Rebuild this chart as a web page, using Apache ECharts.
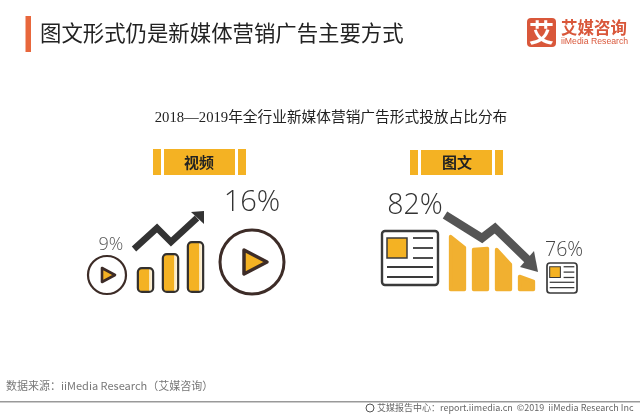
<!DOCTYPE html>
<html><head><meta charset="utf-8">
<style>html,body{margin:0;padding:0;background:#fff}#c{width:640px;height:416px}</style>
<script src="https://cdn.jsdelivr.net/npm/echarts@6/dist/echarts.min.js"></script>
</head><body><div id="c"></div>
<script>
const formatCategories = ['视频', '图文'];
const years = ['2018', '2019'];
const videoShare = [9, 16];
const imageTextShare = [82, 76];
const risingBarCategories = ['a', 'b', 'c'];
const risingBarValues = [26, 40, 52];
const fallingBarCategories = ['a', 'b', 'c', 'd'];
const fallingBarStart = [56, 43, 43, 16];
const fallingBarEnd = [45, 44, 28, 11];
const titleText = '图文形式仍是新媒体营销广告主要方式';
const subtitleText = '2018—2019年全行业新媒体营销广告形式投放占比分布';
const sourceText = '数据来源：iiMedia Research（艾媒咨询）';
const footerText = '艾媒报告中心：report.iimedia.cn  ©2019  iiMedia Research Inc';

const YEL = '#f4b223', DK = '#3d2c27', CJK = '"Noto Sans CJK SC","Noto Sans",sans-serif';
const txt = (x, y, t, size, fill, o) => ({type:'text', x, y, silent:true, style:Object.assign({
  text:t, fontSize:size, fill, fontFamily:CJK, align:'center', verticalAlign:'middle'}, o||{})});
const rect = (x, y, w, h, fill, r) => ({type:'rect', shape:{x, y, width:w, height:h, r:r||0}, style:{fill}});
const line = (x1, y1, x2, y2, c, w) => ({type:'line', shape:{x1, y1, x2, y2}, style:{stroke:c, lineWidth:w}});
const poly = (pts, fill, stroke, w) => ({type:'polygon', shape:{points:pts}, style:{fill, stroke, lineWidth:w||0, lineJoin:'round'}});
const pline = (pts, c, w) => ({type:'polyline', shape:{points:pts}, style:{stroke:c, lineWidth:w, fill:null, lineJoin:'miter'}});
const circ = (cx, cy, r, w) => ({type:'circle', shape:{cx, cy, r}, style:{fill:'#fff', stroke:DK, lineWidth:w}});
const pct = v => v + '%';
const PF = '"Open Sans",sans-serif';

function doc(x, y, w, h, k) {
  const s = 2.4 * k;
  const out = [{type:'rect', shape:{x, y, width:w, height:h, r:3}, style:{fill:'#fff', stroke:'#3a3a3a', lineWidth:s}}];
  const u = w / 56;
  out.push({type:'rect', shape:{x:x+5*u, y:y+7*u, width:20*u, height:20*u}, style:{fill:YEL, stroke:'#3a3a3a', lineWidth:1.5*k}});
  [7, 17, 27].forEach(d => out.push(line(x+31*u, y+d*u, x+51*u, y+d*u, '#3a3a3a', 1.8*k)));
  [36, 46].forEach(d => out.push(line(x+5*u, y+d*u, x+51*u, y+d*u, '#3a3a3a', 1.8*k)));
  return out;
}

const graphics = [
  rect(25.5, 16, 5.5, 36, '#e8673c'),
  txt(40, 32.5, titleText, 21.4, '#222', {align:'left'}),
  rect(527, 18, 29, 29, '#d9573a', 4),
  txt(541.5, 32.5, '艾', 25, '#fff', {fontWeight:'bold'}),
  txt(561, 28, '艾媒咨询', 16.5, '#d9573a', {align:'left', fontWeight:'bold'}),
  txt(561, 42, 'iiMedia Research', 8.7, '#d9573a', {align:'left', fontFamily:'"Liberation Sans",sans-serif'}),
  txt(331, 118, subtitleText, 14.7, '#222', {fontFamily:'"Liberation Serif","Noto Sans CJK SC",serif'}),

  rect(153, 149, 8, 26, YEL), rect(164, 149, 71, 26, YEL), rect(238, 149, 8, 26, YEL),
  txt(199, 162, formatCategories[0], 15, '#222', {fontWeight:'bold'}),
  rect(410, 150, 8, 25, YEL), rect(421, 150, 71, 25, YEL), rect(495, 150, 8, 25, YEL),
  txt(457, 162, formatCategories[1], 15, '#222', {fontWeight:'bold'}),

  txt(111, 245, pct(videoShare[0]), 18, '#555', {fontFamily:PF, fontWeight:300}),
  txt(252, 203, pct(videoShare[1]), 29, '#333', {fontFamily:PF, fontWeight:300}),
  txt(415, 206, pct(imageTextShare[0]), 28.5, '#333', {fontFamily:PF, fontWeight:300}),
  txt(564, 250, pct(imageTextShare[1]), 19.5, '#444', {fontFamily:PF, fontWeight:300}),

  circ(107, 275, 19, 2.2),
  poly([[102,268],[115,275],[102,282]], YEL, DK, 2.6),
  circ(252, 262, 32, 3),
  poly([[244,250],[267,262],[244,274]], YEL, DK, 3.5),
  pline([[134,249],[157,228],[171,242],[197,218]], '#333', 6.5),
  poly([[204,211],[204,224],[191,212]], '#333'),

  pline([[445,215],[482,238],[495,228],[528,260]], '#555', 8.5),
  poly([[538,272],[520,267],[534,251]], '#555'),
  ...doc(382, 231, 56, 54, 1),
  ...doc(547, 263, 30, 30, 0.7),

  txt(6, 386, sourceText, 11, '#777', {align:'left'}),
  rect(0, 401, 640, 1.5, '#999'),
  {type:'circle', shape:{cx:370, cy:408, r:4}, style:{fill:'#fff', stroke:'#555', lineWidth:1}},
  txt(377, 408, footerText, 9, '#666', {align:'left'})
];

const chart = echarts.init(document.getElementById('c'), null, {renderer:'canvas'});
const hiddenAxis = extra => Object.assign({show:false}, extra);
chart.setOption({
  animation:false,
  backgroundColor:'#fff',
  grid:[
    {left:133, width:75, top:241, height:52},
    {left:446, width:92, top:235, height:56}
  ],
  xAxis:[
    hiddenAxis({type:'category', gridIndex:0, data:risingBarCategories}),
    hiddenAxis({type:'category', gridIndex:1, data:fallingBarCategories})
  ],
  yAxis:[
    hiddenAxis({type:'value', gridIndex:0, min:0, max:52}),
    hiddenAxis({type:'value', gridIndex:1, min:0, max:56})
  ],
  series:[
    {type:'bar', xAxisIndex:0, yAxisIndex:0, barWidth:17.5, data:risingBarValues, silent:true,
     itemStyle:{borderColor:'#33302e', borderWidth:2.2, borderRadius:4,
       color:{type:'linear', x:0, y:0, x2:1, y2:0, colorStops:[
         {offset:0, color:YEL},{offset:0.68, color:YEL},{offset:0.69, color:'#fbe3ae'},{offset:1, color:'#fff'}]}}},
    {type:'custom', xAxisIndex:1, yAxisIndex:1, silent:true,
     data:fallingBarCategories.map((c, i) => [i, fallingBarStart[i], fallingBarEnd[i]]),
     encode:{x:0, y:[1, 2]},
     renderItem:(p, api) => {
       const i = api.value(0), hw = api.size([1, 0])[0] * 0.3;
       const base = api.coord([i, 1.5]), a = api.coord([i, api.value(1) - 1.5]), b = api.coord([i, api.value(2) - 1.5]);
       return {type:'polygon', shape:{points:[[base[0]-hw, base[1]],[a[0]-hw, a[1]],[b[0]+hw, b[1]],[base[0]+hw, base[1]]]},
         style:{fill:'#f1b030', stroke:'#f1b030', lineWidth:3.5, lineJoin:'round'}};
     }}
  ],
  graphic:{elements:graphics}
});
</script></body></html>
